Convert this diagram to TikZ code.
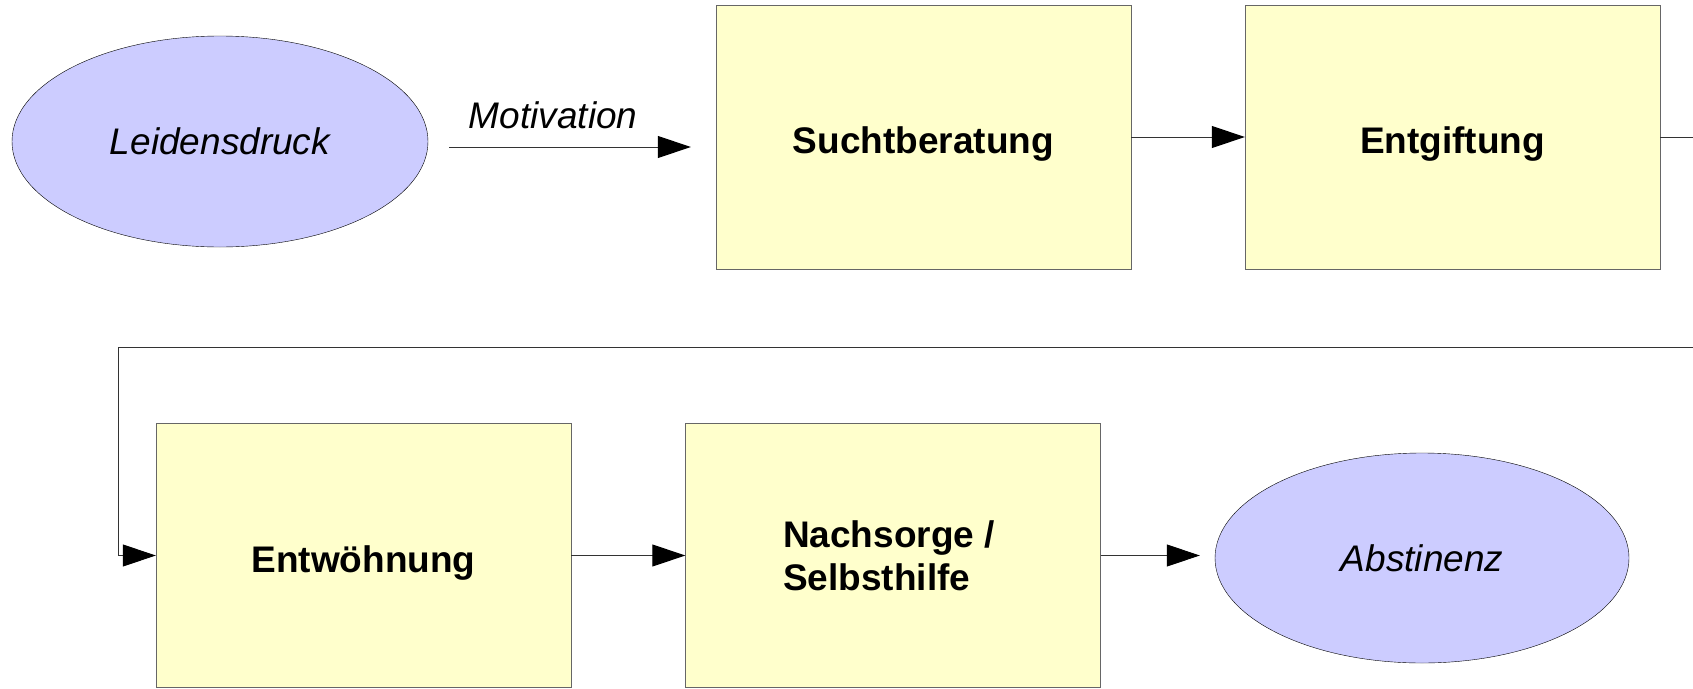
\documentclass[tikz,border=0pt]{standalone}
\usepackage{fontspec}
\setmainfont{Liberation Sans}
\usepackage{tikz}
\usetikzlibrary{shapes.geometric}
\usetikzlibrary{arrows.meta}
\definecolor{boxfill}{HTML}{FFFFCC}
\definecolor{ovalfill}{HTML}{CCCCFF}
\tikzset{x=1pt, y=-1pt,
stage/.style={ % Sets the properties for each treatment step
draw=black!60,
fill=boxfill,
minimum width=415pt,
minimum height=264pt,
inner sep=0pt,
font=\fontsize{37}{43}\selectfont\bfseries},
oneline/.style={ % Text sits a little low in the box
text height=40pt,
text depth=7pt},
goal/.style={ % Start and end states
ellipse,
draw=black,
fill=ovalfill,
minimum width=416pt,
minimum height=211pt,
inner sep=0pt,
font=\fontsize{37}{43}\selectfont\itshape},
flow/.style={ % Sets the properties for each transition
draw=black!80,
line width=1pt,
-{Triangle[length=33pt, width=22pt, black]}}}

\begin{document}
\begin{tikzpicture}
\useasboundingbox (0,0) rectangle (1693,688);
\clip (0,0) rectangle (1693,688);
\node[goal] (leid) at (220,141.5) {Leidensdruck};
\node[stage, oneline] (such) at (923.5,137) {Suchtberatung};
\node[stage, oneline] (entg) at (1452.5,137) {Entgiftung};
\node[stage, oneline] (entw) at (363.5,555.5) {Entwöhnung};
\node[stage, align=left] (nach) at (893,555.5) {\hspace*{-8pt}Nachsorge /\\\hspace*{-8pt}Selbsthilfe};
\node[goal, minimum width=414pt, minimum height=210pt] (abst) at (1422,558) {Abstinenz};
\coordinate (turn) at (1720,347);
\coordinate (back) at (118,347);
\draw[flow, shorten >=25pt] ([xshift=21pt,yshift=-5.5pt]leid.east) coordinate (m1) -- (m1 -| such.west)
  node[pos=0.39, above=14pt, font=\fontsize{37}{43}\selectfont\itshape] {Motivation};
\draw[flow] (such) -- (entg);
\draw[flow] (entg) -| (turn) -- (back) |- (entw);
\draw[flow] (entw) -- (nach);
\draw[flow, shorten >=15pt] (nach) -- (nach -| abst.west);
\end{tikzpicture}
\end{document}
